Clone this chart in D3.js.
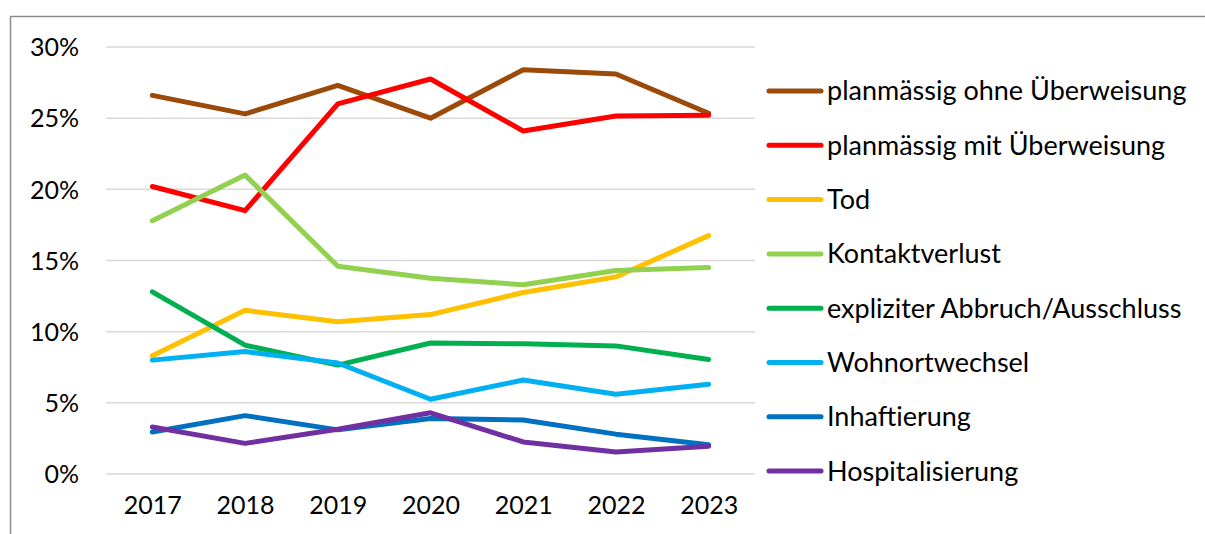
<!DOCTYPE html>
<html lang="de">
<head>
    <meta charset="UTF-8">
    <script src="https://d3js.org/d3.v7.min.js"></script>
    <style>
        body { margin: 0; background: #fff; }
        text { font-family: Lato, "Open Sans", sans-serif; fill: #000; }
    </style>
</head>
<body>
<svg width="1205" height="534" id="chart"></svg>
<script>
// Data (percent)
const years = ["2017", "2018", "2019", "2020", "2021", "2022", "2023"];
const seriesNames = [
    "planmässig ohne Überweisung",
    "planmässig mit Überweisung",
    "Tod",
    "Kontaktverlust",
    "expliziter Abbruch/Ausschluss",
    "Wohnortwechsel",
    "Inhaftierung",
    "Hospitalisierung"
];
const ohneUeberweisung = [26.6, 25.3, 27.3, 25.0, 28.4, 28.1, 25.35];
const mitUeberweisung  = [20.2, 18.5, 26.0, 27.75, 24.1, 25.15, 25.2];
const tod              = [8.3, 11.5, 10.7, 11.2, 12.75, 13.85, 16.75];
const kontaktverlust   = [17.8, 21.0, 14.6, 13.75, 13.3, 14.3, 14.5];
const abbruch          = [12.8, 9.05, 7.65, 9.2, 9.15, 9.0, 8.05];
const wohnortwechsel   = [8.0, 8.6, 7.8, 5.25, 6.6, 5.6, 6.3];
const inhaftierung     = [2.95, 4.1, 3.1, 3.9, 3.8, 2.8, 2.05];
const hospitalisierung = [3.3, 2.15, 3.15, 4.3, 2.25, 1.55, 1.95];
const yTicks = [0, 5, 10, 15, 20, 25, 30];
const colors = ["#9C4A0A", "#FF0000", "#FFC000", "#92D050", "#00B050", "#00B0F0", "#0070C0", "#7030A0"];

const allValues = [ohneUeberweisung, mitUeberweisung, tod, kontaktverlust, abbruch, wohnortwechsel, inhaftierung, hospitalisierung];

const svg = d3.select("#chart");

// outer frame (only top and left visible in the crop)
svg.append("path")
    .attr("d", "M10.5,534 V16.5 H1205")
    .attr("fill", "none")
    .attr("stroke", "#8c8c8c")
    .attr("stroke-width", 1.5);

const xScale = d3.scalePoint().domain(years).range([106, 755]).padding(0.5);
const yScale = d3.scaleLinear().domain([0, 30]).range([474, 47]);

// gridlines
svg.append("g")
    .selectAll("line")
    .data(yTicks)
    .enter().append("line")
    .attr("x1", 106)
    .attr("x2", 755)
    .attr("y1", d => yScale(d))
    .attr("y2", d => yScale(d))
    .attr("stroke", "#d9d9d9")
    .attr("stroke-width", 1.5);

// y axis labels
const yAxis = svg.append("g")
    .attr("transform", "translate(79,0)")
    .call(d3.axisLeft(yScale).tickValues(yTicks).tickFormat(d => d + "%").tickSize(0).tickPadding(0));
yAxis.select(".domain").remove();
yAxis.selectAll("text")
    .style("font-family", "Lato, 'Open Sans', sans-serif")
    .style("font-size", "25px")
    .attr("dy", "0.35em");

// x axis labels
const xAxis = svg.append("g")
    .attr("transform", "translate(0,496)")
    .call(d3.axisBottom(xScale).tickSize(0).tickPadding(0));
xAxis.select(".domain").remove();
xAxis.selectAll("text")
    .style("font-family", "Lato, 'Open Sans', sans-serif")
    .style("font-size", "25px")
    .attr("dy", "0.71em");

// lines
const line = d3.line()
    .x((d, i) => xScale(years[i]))
    .y(d => yScale(d));

svg.append("g")
    .selectAll("path")
    .data(allValues)
    .enter().append("path")
    .attr("d", d => line(d))
    .attr("fill", "none")
    .attr("stroke", (d, i) => colors[i])
    .attr("stroke-width", 5)
    .attr("stroke-linecap", "round")
    .attr("stroke-linejoin", "round");

// legend
const legend = svg.append("g")
    .attr("transform", "translate(767,91)");

const rows = legend.selectAll("g")
    .data(seriesNames)
    .enter().append("g")
    .attr("transform", (d, i) => "translate(0," + (i * 54.3) + ")");

rows.append("line")
    .attr("x1", 2)
    .attr("x2", 54)
    .attr("stroke", (d, i) => colors[i])
    .attr("stroke-width", 5)
    .attr("stroke-linecap", "round");

rows.append("text")
    .attr("x", 60)
    .attr("dy", "0.35em")
    .style("font-size", "27px")
    .text(d => d);
</script>
</body>
</html>
